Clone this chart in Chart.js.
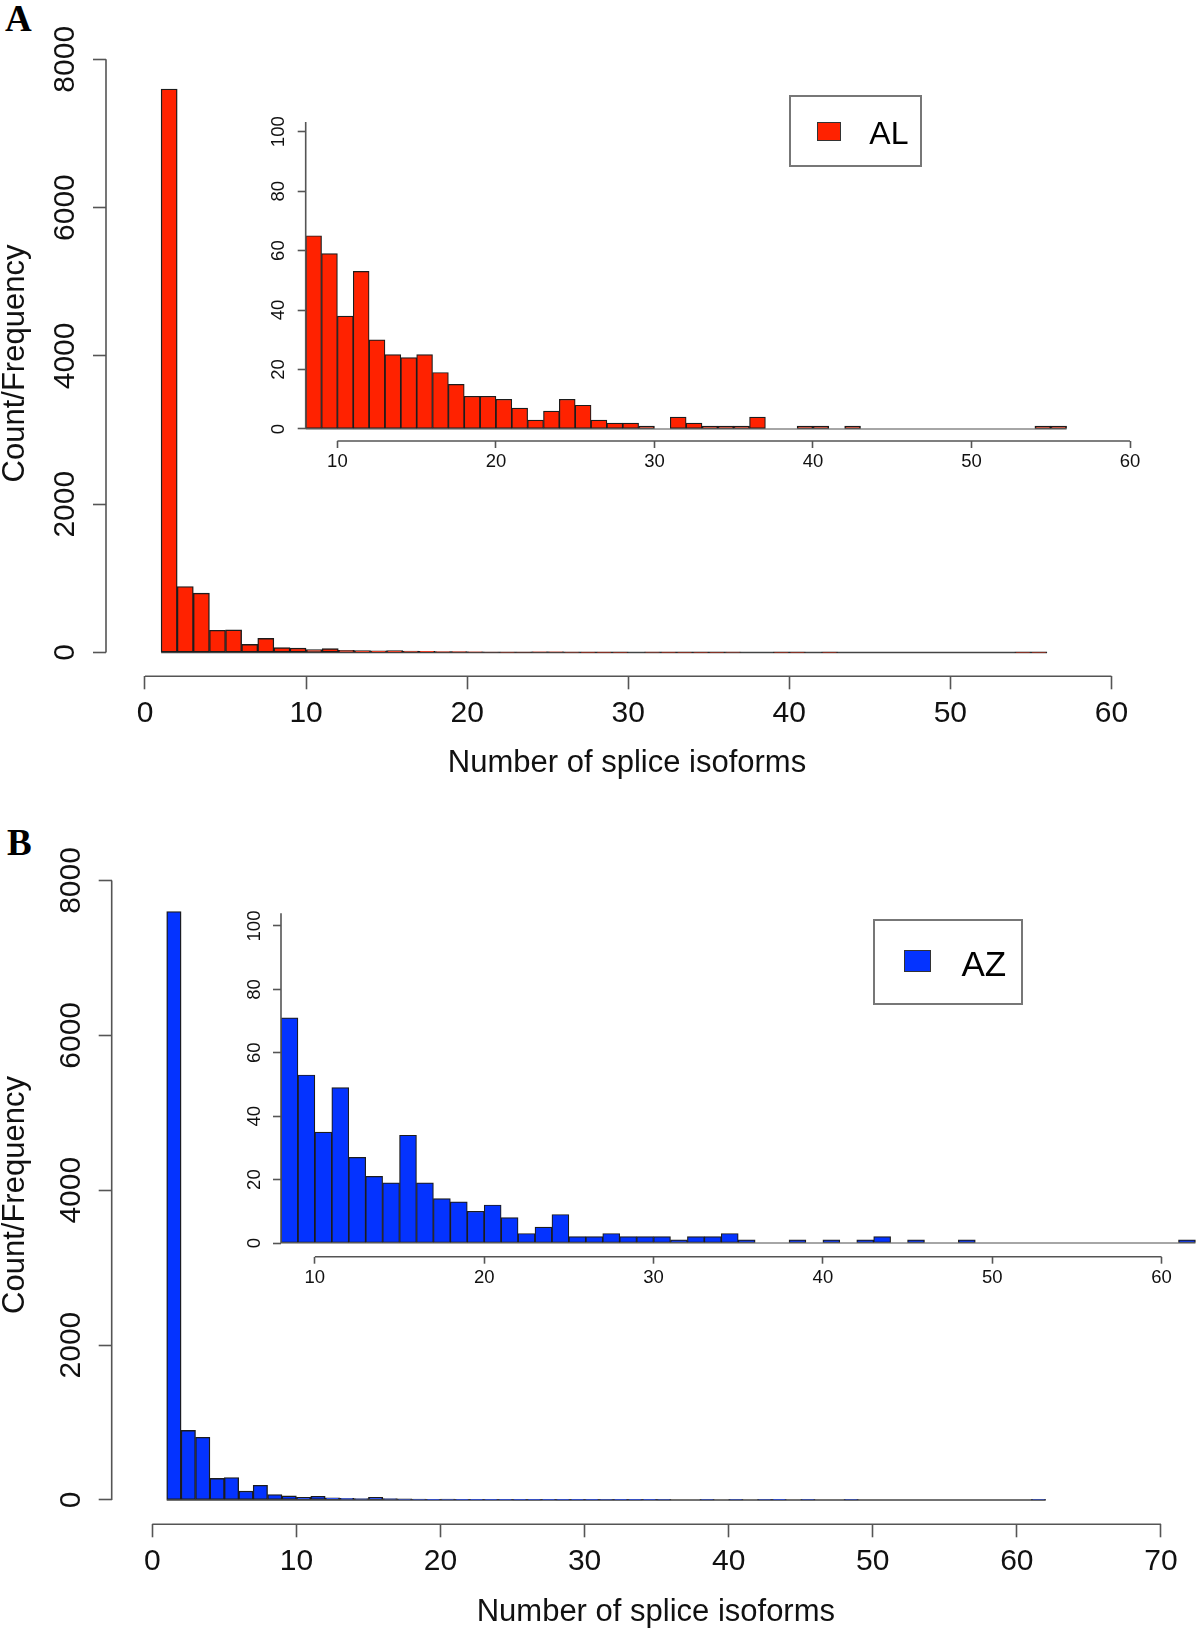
<!DOCTYPE html>
<html>
<head>
<meta charset="utf-8">
<title>Splice isoforms histograms</title>
<script src="https://cdn.jsdelivr.net/npm/chart.js@4.4.1/dist/chart.umd.min.js"></script>
<style>
  body { margin: 0; background: #fff; }
  #page { position: relative; width: 1200px; height: 1634px; background: #fff; overflow: hidden; font-family: "Liberation Sans", Arial, sans-serif; }
  canvas { position: absolute; }
  .panel { position: absolute; font-family: "Liberation Serif", "Times New Roman", serif; font-weight: bold; font-size: 37px; line-height: 37px; color: #000; }
  .legend-box { position: absolute; border: 2px solid #777; box-sizing: border-box; }
  .legend-swatch { position: absolute; border: 1.5px solid #333; box-sizing: border-box; }
  .legend-text { position: absolute; line-height: 1; color: #000; white-space: nowrap; }
</style>
</head>
<body>
<div id="page">
  <div class="panel" style="left:5px; top:0px;">A</div>
  <div class="panel" style="left:7px; top:824px;">B</div>
  <canvas id="mainA" width="1200" height="800" style="left:0; top:0;"></canvas>
  <canvas id="insetA" width="1000" height="420" style="left:200px; top:80px;"></canvas>
  <canvas id="mainB" width="1200" height="834" style="left:0; top:800px;"></canvas>
  <canvas id="insetB" width="1020" height="440" style="left:180px; top:880px;"></canvas>
</div>
<script>
// ---- data: bin left/right edges and counts (number of splice isoforms) ----
const edgesAL = [1, 2, 3, 4, 5, 6, 7, 8, 9, 10, 11, 12, 13, 14, 15, 16, 17, 18, 19, 20,
  21, 22, 23, 24, 25, 26, 27, 28, 29, 30, 31, 32, 33, 34, 35, 36, 37, 38, 39, 40,
  41, 42, 43, 44, 45, 46, 47, 48, 49, 50, 51, 52, 53, 54, 55, 56];
const countsAL = [7600, 890, 800, 300, 305, 110, 190, 65, 59, 38, 53, 30, 25, 24, 25, 19, 15, 11, 11, 10,
  7, 3, 6, 10, 8, 3, 2, 2, 1, 0, 4, 2, 1, 1, 1, 4, 0, 0, 1, 1,
  0, 1, 0, 0, 0, 0, 0, 0, 0, 0, 0, 0, 0, 1, 1];

const edgesAZ = [1, 2, 3, 4, 5, 6, 7, 8, 9, 10, 11, 12, 13, 14, 15, 16, 17, 18, 19, 20,
  21, 22, 23, 24, 25, 26, 27, 28, 29, 30, 31, 32, 33, 34, 35, 36, 37, 38, 39, 40,
  41, 42, 43, 44, 45, 46, 47, 48, 49, 50, 51, 52, 53, 54, 55, 56, 57, 58, 59, 60, 61, 62];
const countsAZ = [7600, 900, 810, 280, 290, 115, 190, 71, 53, 35, 49, 27, 21, 19, 34, 19, 14, 13, 10, 12,
  8, 3, 5, 9, 2, 2, 3, 2, 2, 2, 1, 2, 2, 3, 1, 0, 0, 1, 0, 1,
  0, 1, 2, 0, 1, 0, 0, 1, 0, 0, 0, 0, 0, 0, 0, 0, 0, 0, 0, 0, 1];

const labelAL = "AL";
const labelAZ = "AZ";
const insetFrom = 8;

const mainYTicks = [0, 2000, 4000, 6000, 8000];
const mainXTicksA = [0, 10, 20, 30, 40, 50, 60];
const mainXTicksB = [0, 10, 20, 30, 40, 50, 60, 70];
const insetYTicks = [0, 20, 40, 60, 80, 100];
const insetXTicks = [10, 20, 30, 40, 50, 60];

const RED = "#ff2200";
const BLUE = "#0433ff";
const FONT = '"Liberation Sans", Arial, sans-serif';

Chart.defaults.font.family = FONT;

// R style axis lines: only from first to last tick
const rAxisLines = {
  id: "rAxisLines",
  afterDraw(chart, args, opts) {
    const { ctx, chartArea, scales: { x, y } } = chart;
    const xt = x.ticks, yt = y.ticks;
    ctx.save();
    ctx.strokeStyle = opts.color || "#555";
    ctx.lineWidth = opts.width || 1.6;
    ctx.beginPath();
    ctx.moveTo(x.getPixelForValue(xt[0].value), chartArea.bottom);
    ctx.lineTo(x.getPixelForValue(xt[xt.length - 1].value), chartArea.bottom);
    const yTop = opts.yToTop ? chartArea.top : y.getPixelForValue(yt[yt.length - 1].value);
    ctx.moveTo(chartArea.left, y.getPixelForValue(yt[0].value));
    ctx.lineTo(chartArea.left, yTop);
    ctx.stroke();
    ctx.restore();
  }
};

function histPoints(edges, counts, from) {
  const pts = [];
  for (let i = 0; i < counts.length; i++) {
    if (edges[i] < from) continue;
    pts.push({ x: (edges[i] + edges[i + 1]) / 2, y: counts[i] });
  }
  return pts;
}

function makeHist(id, c) {
  const ctx = document.getElementById(id).getContext("2d");
  const lastEdge = c.edges[c.edges.length - 1];
  return new Chart(ctx, {
    type: "bar",
    data: {
      datasets: [
        {
          type: "bar",
          label: c.label,
          data: histPoints(c.edges, c.counts, c.from),
          backgroundColor: c.color,
          borderColor: "#1c1c1c",
          borderWidth: c.barBorder,
          borderSkipped: false,
          barPercentage: 1,
          categoryPercentage: 1,
          order: 1
        },
        {
          type: "line",
          label: "baseline",
          data: [{ x: c.from, y: 0 }, { x: lastEdge, y: 0 }],
          borderColor: c.baseColor,
          borderWidth: 1.3,
          pointRadius: 0,
          order: 2
        }
      ]
    },
    plugins: [rAxisLines],
    options: {
      responsive: false,
      animation: false,
      events: [],
      layout: { padding: c.pad },
      plugins: {
        legend: { display: false },
        tooltip: { enabled: false },
        rAxisLines: { color: "#555", width: 1.6, yToTop: c.yToTop }
      },
      scales: {
        x: {
          type: "linear",
          min: c.xMin,
          max: c.xMax,
          offset: false,
          afterBuildTicks: s => { s.ticks = c.xTicks.map(v => ({ value: v })); },
          afterFit: s => { s.height = c.xHeight; },
          border: { display: false },
          grid: { offset: false, drawOnChartArea: false, drawTicks: true, tickLength: c.xTickLen, tickColor: "#555", tickWidth: 1.6 },
          ticks: { autoSkip: false, maxRotation: 0, padding: c.xTickPad, color: "#111", font: { size: c.tickFont }, callback: v => String(v) },
          title: c.xTitle ? { display: true, text: c.xTitle, color: "#111", font: { size: 31 }, padding: { top: 0, bottom: c.xTitlePad } } : { display: false }
        },
        y: {
          type: "linear",
          min: c.yMin,
          max: c.yMax,
          afterBuildTicks: s => { s.ticks = c.yTicks.map(v => ({ value: v })); },
          afterFit: s => { s.width = c.yWidth; },
          border: { display: false },
          grid: { drawOnChartArea: false, drawTicks: true, tickLength: c.yTickLen, tickColor: "#555", tickWidth: 1.6 },
          ticks: { autoSkip: false, minRotation: 90, maxRotation: 90, crossAlign: "center", padding: c.yTickPad, color: "#111", font: { size: c.tickFont }, callback: v => String(v) },
          title: c.yTitle ? { display: true, text: c.yTitle, color: "#111", font: { size: 31 }, padding: { top: -3.3, bottom: 0 } } : { display: false }
        }
      }
    }
  });
}

function addLegend(chart, g) {
  const page = document.getElementById("page");
  const ds = chart.data.datasets[0];
  const box = document.createElement("div");
  box.className = "legend-box";
  Object.assign(box.style, { left: g.left + "px", top: g.top + "px", width: g.w + "px", height: g.h + "px" });
  page.appendChild(box);
  const sw = document.createElement("div");
  sw.className = "legend-swatch";
  Object.assign(sw.style, { left: g.sx + "px", top: g.sy + "px", width: g.sw + "px", height: g.sh + "px", background: ds.backgroundColor });
  page.appendChild(sw);
  const tx = document.createElement("div");
  tx.className = "legend-text";
  tx.textContent = ds.label;
  Object.assign(tx.style, { left: g.tx + "px", top: g.ty + "px", fontSize: g.fs + "px" });
  page.appendChild(tx);
}

// Panel A main
makeHist("mainA", {
  label: labelAL, edges: edgesAL, counts: countsAL, from: edgesAL[0], color: RED, baseColor: "#444", barBorder: 1.4,
  pad: { left: 0, top: 50.7, right: 52, bottom: 0 },
  xMin: -2.421, xMax: 62.27, yMin: -321, yMax: 8116,
  xTicks: mainXTicksA, yTicks: mainYTicks, xHeight: 123.7, yWidth: 106,
  xTickLen: 13, yTickLen: 13, xTickPad: 6.7, yTickPad: -6, tickFont: 30,
  xTitle: "Number of splice isoforms", xTitlePad: 17.9, yTitle: "Count/Frequency"
});

// Panel A inset
const insetAChart = makeHist("insetA", {
  label: labelAL, edges: edgesAL, counts: countsAL, from: insetFrom, color: RED, baseColor: "#888", barBorder: 1.2,
  pad: { left: 0, top: 42, right: 70, bottom: 0 },
  xMin: 8, xMax: 60, yMin: -4.04, yMax: 103.26, yToTop: true,
  xTicks: insetXTicks, yTicks: insetYTicks, xHeight: 59, yWidth: 105.7,
  xTickLen: 7, yTickLen: 8, xTickPad: 2.9, yTickPad: 3.7, tickFont: 18.5
});

// Panel B main
makeHist("mainB", {
  label: labelAZ, edges: edgesAZ, counts: countsAZ, from: edgesAZ[0], color: BLUE, baseColor: "#444", barBorder: 1.4,
  pad: { left: 0, top: 65.7, right: 0, bottom: 0 },
  xMin: -2.817, xMax: 72.71, yMin: -313.8, yMax: 8191,
  xTicks: mainXTicksB, yTicks: mainYTicks, xHeight: 109.7, yWidth: 111.7,
  xTickLen: 13, yTickLen: 13, xTickPad: 6.5, yTickPad: -6, tickFont: 30,
  xTitle: "Number of splice isoforms", xTitlePad: 2.9, yTitle: "Count/Frequency"
});

// Panel B inset
const insetBChart = makeHist("insetB", {
  label: labelAZ, edges: edgesAZ, counts: countsAZ, from: insetFrom, color: BLUE, baseColor: "#888", barBorder: 1.2,
  pad: { left: 0, top: 33.3, right: 0, bottom: 0 },
  xMin: 8, xMax: 62.27, yMin: -4.32, yMax: 104.0, yToTop: true,
  xTicks: insetXTicks, yTicks: insetYTicks, xHeight: 63.3, yWidth: 101,
  xTickLen: 7, yTickLen: 8, xTickPad: 2.9, yTickPad: 2.2, tickFont: 18.5
});

addLegend(insetAChart, { left: 789.4, top: 95.4, w: 132.3, h: 71.3, sx: 817.3, sy: 122.3, sw: 24, sh: 18.7, tx: 869.3, ty: 117.2, fs: 32 });
addLegend(insetBChart, { left: 872.8, top: 918.6, w: 150.5, h: 86.5, sx: 904.3, sy: 950, sw: 26.7, sh: 22.4, tx: 961.4, ty: 946.2, fs: 35 });
</script>
</body>
</html>
